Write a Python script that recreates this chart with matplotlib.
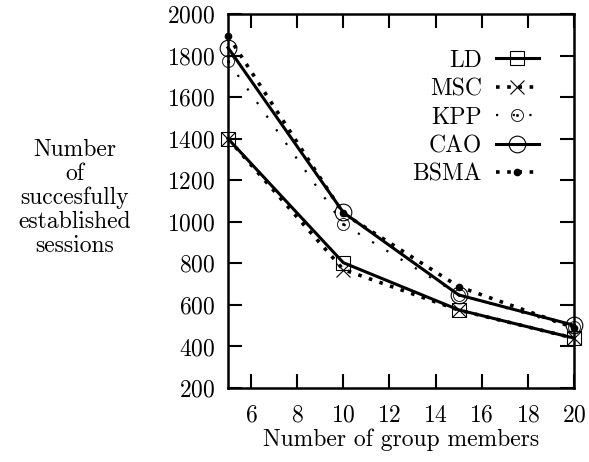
import numpy as np
import matplotlib.pyplot as plt

plt.rcParams['font.family'] = ['cmr10', 'DejaVu Serif']
plt.rcParams['mathtext.fontset'] = 'cm'
plt.rcParams['axes.formatter.use_mathtext'] = True

members = [5, 10, 15, 20]
ld = [1400, 803, 576, 440]
msc = [1400, 770, 575, 440]
kpp = [1772, 988, 650, 492]
cao = [1838, 1045, 648, 502]
bsma = [1895, 1040, 688, 490]

fig = plt.figure(figsize=(5.89, 4.62), dpi=100)
ax = fig.add_axes([228 / 589, 1 - 388 / 462, 346 / 589, 374 / 462])

ax.plot(members, ld, color='black', lw=2.2, marker='s', ms=10, mfc='none', mew=0.8,
        label='LD', clip_on=False)
ax.plot(members, msc, color='black', lw=2.6, ls=(0, (1, 2.1)), marker='x', ms=10, mew=0.8,
        label='MSC', clip_on=False)
ax.plot(members, kpp, color='black', lw=1.6, ls=(0, (1, 6.5)), marker=r'$\odot$', ms=9, mew=0.2,
        label='KPP', clip_on=False)
ax.plot(members, cao, color='black', lw=2.2, marker='o', ms=12, mfc='none', mew=0.8,
        label='CAO', clip_on=False)
ax.plot(members, bsma, color='black', lw=2.6, ls=(0, (1, 2.1)), marker='o', ms=4.5,
        label='BSMA', clip_on=False)

ax.set_xlim(5, 20)
ax.set_ylim(200, 2000)
ax.set_xticks(np.arange(6, 21, 2))
ax.set_yticks(np.arange(200, 2001, 200))
ax.tick_params(direction='in', length=10, width=1.5, top=True, right=True, labelsize=17, pad=9)
ax.tick_params(axis='x', pad=12)
for s in ax.spines.values():
    s.set_linewidth(1.8)

ax.set_xlabel('Number of group members', fontsize=17, labelpad=1)
fig.text(75 / 589, 1 - 198 / 462, 'Number\nof\nsuccesfully\nestablished\nsessions',
         ha='center', va='center', fontsize=17, linespacing=1.1)

leg = ax.legend(loc='upper right', frameon=False, markerfirst=False, fontsize=17,
                handlelength=1.8, labelspacing=0.27, borderaxespad=1.2, borderpad=0.3,
                handletextpad=0.6)
for t in leg.get_texts():
    t.set_ha('right')

fig.savefig('out.png', dpi=100)
